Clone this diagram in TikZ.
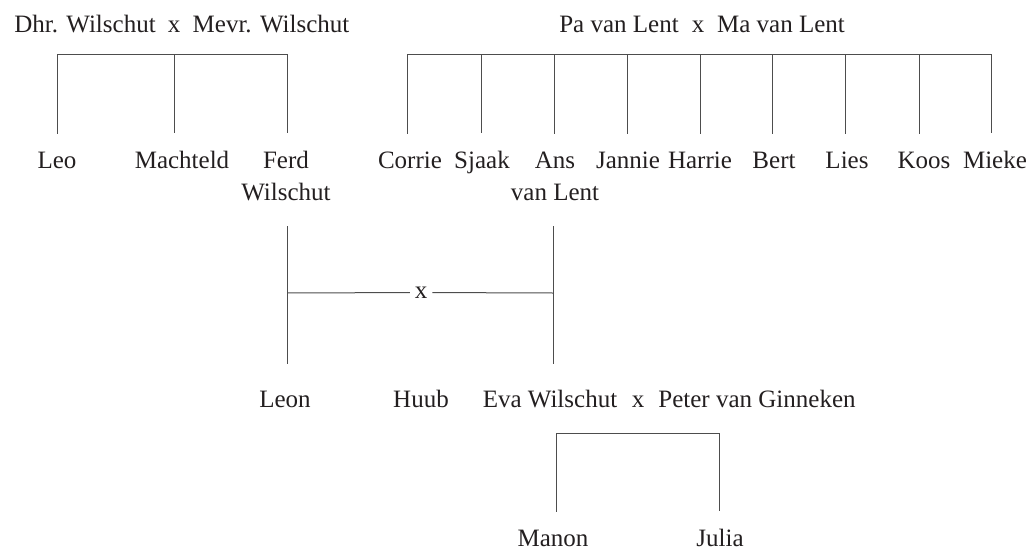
\documentclass[tikz,border=0pt]{standalone}
\usepackage{fontspec}
\setmainfont{Liberation Serif}
\definecolor{linec}{HTML}{4D4D4D}
\definecolor{txt}{HTML}{231F20}
\begin{document}
\begin{tikzpicture}[x=1pt,y=-1pt,
  conn/.style={draw=linec, line width=1pt},
  person/.style={inner sep=0pt, outer sep=0pt, anchor=base, text=txt,
    font=\fontsize{25}{32}\selectfont, align=center},
  marr/.style={inner sep=5pt, outer sep=0pt, text=txt,
    font=\fontsize{25}{32}\selectfont}]
\useasboundingbox (0,0) rectangle (1029,549);

% parents
\node[person] (dhr)  at (85,32)  {Dhr. Wilschut};
\node[person] (xw)   at (174,32) {x};
\node[person] (mevr) at (271,32) {Mevr. Wilschut};
\node[person] (pa)   at (619,32) {Pa van Lent};
\node[person] (xl)   at (698,32) {x};
\node[person] (ma)   at (781,32) {Ma van Lent};

% children generation 1 (two-line names: base = last line)
\node[person] (leo)      at (57,168)  {Leo};
\node[person] (machteld) at (182,168) {Machteld};
\node[person] (ferd)     at (286,200) {Ferd\\Wilschut};
\node[person] (corrie)   at (410,168) {Corrie};
\node[person] (sjaak)    at (482,168) {Sjaak};
\node[person] (ans)      at (555,200) {Ans\\van Lent};
\node[person] (jannie)   at (628,168) {Jannie};
\node[person] (harrie)   at (700,168) {Harrie};
\node[person] (bert)     at (774,168) {Bert};
\node[person] (lies)     at (847,168) {Lies};
\node[person] (koos)     at (924,168) {Koos};
\node[person] (mieke)    at (995,168) {Mieke};

% generation 2
\node[person] (leon)  at (285,407) {Leon};
\node[person] (huub)  at (421,407) {Huub};
\node[person] (eva)   at (550,407) {Eva Wilschut};
\node[person] (xe)    at (638,407) {x};
\node[person] (peter) at (757,407) {Peter van Ginneken};

% generation 3
\node[person] (manon) at (553,546) {Manon};
\node[person] (julia) at (720,546) {Julia};

% Wilschut bar
\coordinate (w1) at (57,54);
\coordinate (w2) at (174,54);
\coordinate (w3) at (287,54);
\draw[conn] (w1) -- (w3);
\foreach \c/\n in {w1/leo, w2/machteld, w3/ferd}
  \draw[conn, shorten >=17.5pt] (\c) -- (\c |- \n.north);

% van Lent bar
\coordinate (l1) at (407,54);
\coordinate (l2) at (481,54);
\coordinate (l3) at (554,54);
\coordinate (l4) at (627,54);
\coordinate (l5) at (700,54);
\coordinate (l6) at (772,54);
\coordinate (l7) at (845,54);
\coordinate (l8) at (919,54);
\coordinate (l9) at (991,54);
\draw[conn] (l1) -- (l9);
\foreach \c/\n in {l1/corrie, l2/sjaak, l3/ans, l4/jannie, l5/harrie,
                   l6/bert, l7/lies, l8/koos, l9/mieke}
  \draw[conn, shorten >=17.5pt] (\c) -- (\c |- \n.north);

% marriage Ferd x Ans
\coordinate (f1) at (287,226);
\coordinate (f2) at (287,364);
\coordinate (a1) at (553,226);
\coordinate (a2) at (553,364);
\draw[conn] (f1) -- (f2);
\draw[conn] (a1) -- (a2);
\node[marr] (mx) at (421,292.5) {x};
\coordinate (mL) at (287,293);
\coordinate (mR) at (553,293);
\draw[conn] (mL) -- (mx) -- (mR);

% Eva x Peter children
\coordinate (e1) at (556,433);
\coordinate (e2) at (719,433);
\draw[conn] (e1) -- (e2);
\draw[conn, shorten >=17.5pt] (e1) -- (e1 |- manon.north);
\draw[conn, shorten >=17.5pt] (e2) -- (e2 |- julia.north);
\end{tikzpicture}
\end{document}
